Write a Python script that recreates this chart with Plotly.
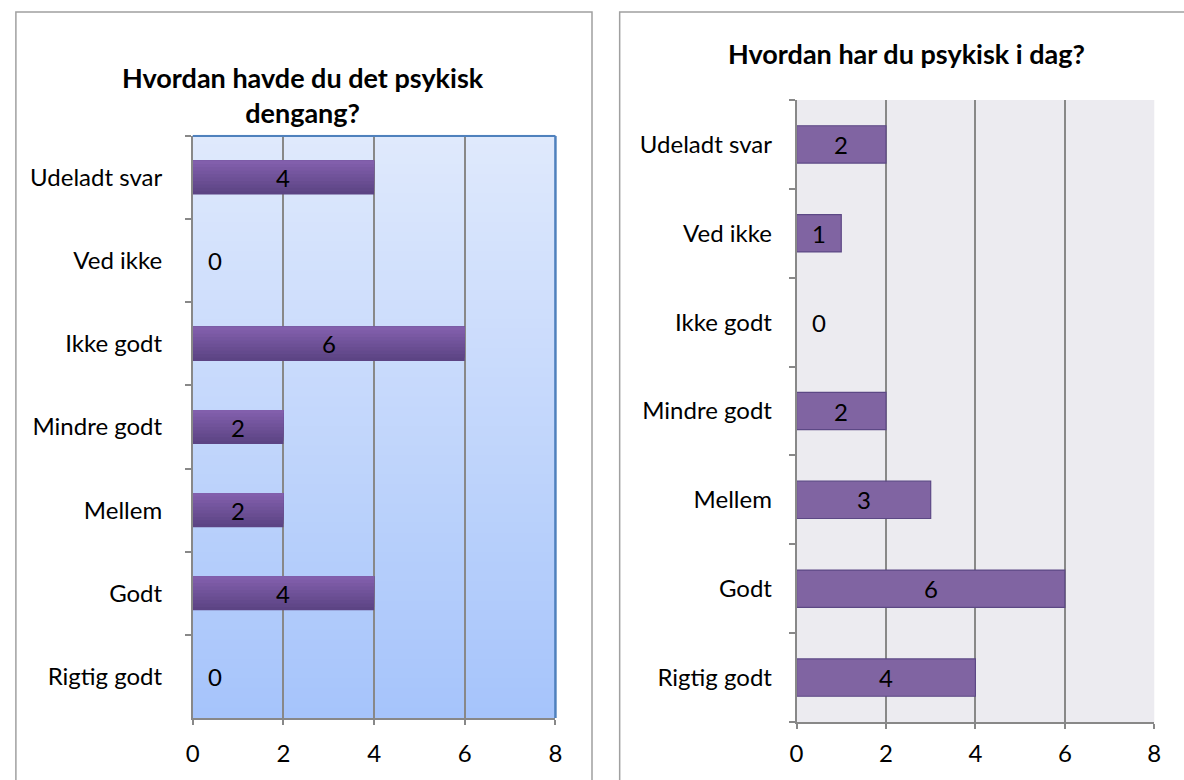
import plotly.graph_objects as go

# ---------------- data ----------------
categories = ["Rigtig godt", "Godt", "Mellem", "Mindre godt", "Ikke godt", "Ved ikke", "Udeladt svar"]
values_then = [0, 4, 2, 2, 6, 0, 4]   # "Hvordan havde du det psykisk dengang?"
values_now = [4, 6, 3, 2, 0, 1, 2]    # "Hvordan har du psykisk i dag?"
x_ticks = [0, 2, 4, 6, 8]
title_then = "Hvordan havde du det psykisk<br>dengang?"
title_now = "Hvordan har du psykisk i dag?"

W, H = 1184, 780
FONT = "Lato, 'Open Sans', sans-serif"
FS = 24

def px(x):
    return x / W

def py(y):
    return 1 - y / H

def lerp(c1, c2, t):
    return "rgb(%d,%d,%d)" % tuple(round(a + (b - a) * t) for a, b in zip(c1, c2))

fig = go.Figure()

# ---------- left chart: gradient bars (overlaid strips from the same data) ----------
BW_L = 0.41
n_strips = 10
dark = (92, 68, 132)
light = (130, 95, 172)
for i in range(n_strips):
    t = i / (n_strips - 1)
    off = -BW_L / 2 + i * BW_L / n_strips
    fig.add_trace(go.Bar(
        x=values_then, y=categories, orientation="h",
        width=BW_L - i * BW_L / n_strips, offset=off,
        marker=dict(color=lerp(dark, light, t), line=dict(width=0)),
        xaxis="x", yaxis="y", showlegend=False, hoverinfo="skip",
    ))

# ---------- right chart: flat bars ----------
BW_R = 0.42
fig.add_trace(go.Bar(
    x=values_now, y=categories, orientation="h", width=BW_R,
    marker=dict(color="#8064a2",
                line=dict(color="#5c4885", width=[1.2 if v > 0 else 0 for v in values_now])),
    xaxis="x2", yaxis="y2", showlegend=False, hoverinfo="skip",
))

fig.update_layout(barmode="overlay")

# ---------- data labels ----------
annotations = []
lab_font = dict(size=FS, color="black", family=FONT)
for xa, ya, vals in (("x", "y", values_then), ("x2", "y2", values_now)):
    for c, v in zip(categories, vals):
        if v > 0:
            annotations.append(dict(x=v / 2, y=c, xref=xa, yref=ya, text=str(v),
                                    xanchor="center", showarrow=False, font=lab_font))
        else:
            annotations.append(dict(x=0, y=c, xref=xa, yref=ya, text=str(v), xshift=22,
                                    xanchor="center", showarrow=False, font=lab_font))

# titles
annotations.append(dict(x=px(300), y=py(95), xref="paper", yref="paper", text="<b>" + title_then + "</b>",
                        xanchor="center", yanchor="middle", showarrow=False,
                        font=dict(size=27, color="black", family=FONT), align="center"))
annotations.append(dict(x=px(910), y=py(54), xref="paper", yref="paper", text="<b>" + title_now + "</b>",
                        xanchor="center", yanchor="middle", showarrow=False,
                        font=dict(size=27, color="black", family=FONT)))

# ---------- shapes: frames, background gradient, borders ----------
shapes = []
shapes.append(dict(type="rect", xref="paper", yref="paper", x0=px(9), x1=px(592), y0=-0.05, y1=py(12),
                   line=dict(color="#a0a0a0", width=1.5), fillcolor="rgba(0,0,0,0)", layer="below"))
shapes.append(dict(type="rect", xref="paper", yref="paper", x0=px(620), x1=1.05, y0=-0.05, y1=py(12),
                   line=dict(color="#a0a0a0", width=1.5), fillcolor="rgba(0,0,0,0)", layer="below"))
top_c = (223, 233, 252)
bot_c = (166, 196, 251)
n_bg = 60
for i in range(n_bg):
    t = i / (n_bg - 1)
    shapes.append(dict(type="rect", xref="x domain", yref="y domain",
                       x0=0, x1=1, y0=1 - (i + 1) / n_bg, y1=1 - i / n_bg + 0.002,
                       fillcolor=lerp(top_c, bot_c, t), line=dict(width=0), layer="below"))
shapes.append(dict(type="line", xref="x domain", yref="y domain", x0=0, x1=1, y0=1, y1=1,
                   line=dict(color="#4f81bd", width=2)))
shapes.append(dict(type="line", xref="x domain", yref="y domain", x0=1, x1=1, y0=0, y1=1,
                   line=dict(color="#4f81bd", width=2.5)))
shapes.append(dict(type="rect", xref="x2 domain", yref="y2 domain", x0=0, x1=1, y0=0, y1=1,
                   fillcolor="#ecebf0", line=dict(width=0), layer="below"))

fig.update_layout(annotations=annotations, shapes=shapes)

axis_font = dict(size=FS, color="black", family=FONT)
GRID = "#888888"
GW = 1.6

fig.update_layout(
    width=W, height=H,
    margin=dict(l=0, r=0, t=0, b=0),
    paper_bgcolor="white",
    plot_bgcolor="rgba(0,0,0,0)",
    font=dict(family=FONT, color="black"),
    xaxis=dict(domain=[px(188), px(555)], range=[0, 8], tickvals=x_ticks,
               showgrid=True, gridcolor=GRID, gridwidth=GW, zeroline=False,
               showline=True, linecolor=GRID, linewidth=GW,
               ticks="outside", ticklen=5, tickcolor=GRID, tickwidth=GW,
               tickfont=axis_font, ticklabelstandoff=8, anchor="y", fixedrange=True),
    yaxis=dict(domain=[py(718), py(136)], categoryorder="array", categoryarray=categories,
               range=[-0.5, 6.5], showgrid=False, zeroline=False,
               showline=True, linecolor=GRID, linewidth=GW,
               ticks="outside", ticklen=6, tickcolor=GRID, tickwidth=GW, tickson="boundaries",
               tickfont=axis_font, ticklabelstandoff=24, anchor="x", fixedrange=True),
    xaxis2=dict(domain=[px(799), px(1161)], range=[0, 8], tickvals=x_ticks,
                showgrid=True, gridcolor=GRID, gridwidth=GW, zeroline=False,
                showline=True, linecolor=GRID, linewidth=GW,
                ticks="outside", ticklen=5, tickcolor=GRID, tickwidth=GW,
                tickfont=axis_font, ticklabelstandoff=4, anchor="y2", fixedrange=True),
    yaxis2=dict(domain=[py(722), py(100)], categoryorder="array", categoryarray=categories,
                range=[-0.5, 6.5], showgrid=False, zeroline=False,
                showline=True, linecolor=GRID, linewidth=GW,
                ticks="outside", ticklen=6, tickcolor=GRID, tickwidth=GW, tickson="boundaries",
                tickfont=axis_font, ticklabelstandoff=18, anchor="x2", fixedrange=True),
)

fig.write_html("out.html", config={"displayModeBar": False},
               post_script="document.body.style.margin='0';")
